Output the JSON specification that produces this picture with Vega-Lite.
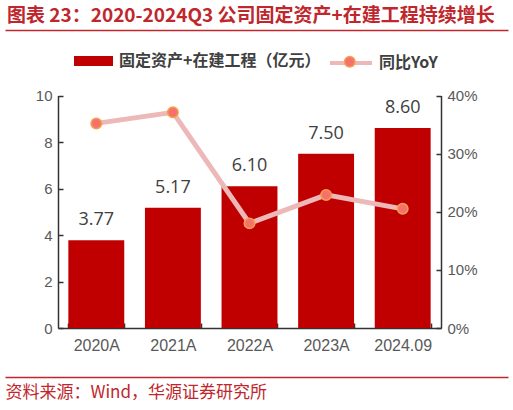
{
  "$schema": "https://vega.github.io/schema/vega-lite/v6.json",
  "width": 503,
  "height": 347,
  "autosize": {"type": "none"},
  "padding": {"left": 5, "top": 30, "right": 5, "bottom": 33},
  "background": "white",
  "config": {"view": {"stroke": null}, "font": "Liberation Sans"},
  "title": {
    "text": "图表 23：2020-2024Q3 公司固定资产+在建工程持续增长",
    "anchor": "start",
    "frame": "group",
    "font": "Noto Sans CJK SC",
    "fontSize": 19,
    "fontWeight": "bold",
    "color": "#C0272D",
    "offset": -11,
    "baseline": "alphabetic",
    "dx": 2
  },
  "datasets": {
    "main": [
      {"year": "2020A", "value": 3.77, "yoy": 0.352},
      {"year": "2021A", "value": 5.17, "yoy": 0.371},
      {"year": "2022A", "value": 6.10, "yoy": 0.180},
      {"year": "2023A", "value": 7.50, "yoy": 0.229},
      {"year": "2024.09", "value": 8.60, "yoy": 0.205}
    ],
    "frame": [{"d": 0}, {"d": 1}]
  },
  "resolve": {"scale": {"x": "independent", "y": "independent"}},
  "layer": [
    {
      "data": {"name": "main"},
      "encoding": {
        "x": {
          "field": "year", "type": "nominal", "sort": null,
          "scale": {"range": [53, 436], "paddingInner": 0.27, "paddingOuter": 0.135},
          "axis": {
            "orient": "bottom", "offset": -49, "title": null,
            "domainColor": "#333333", "domainWidth": 1.5,
            "tickColor": "#333333", "tickWidth": 1.5, "tickSize": -5, "tickBand": "extent",
            "labelFontSize": 16, "labelColor": "#595959", "labelFont": "Liberation Sans",
            "labelPadding": 14, "labelAngle": 0, "grid": false
          }
        },
        "y": {
          "field": "value", "type": "quantitative",
          "scale": {"domain": [0, 10], "range": [298, 65.5], "nice": false, "zero": true},
          "axis": {
            "orient": "left", "offset": -53, "title": null, "values": [0, 2, 4, 6, 8, 10],
            "domainColor": "#333333", "domainWidth": 1.5,
            "tickColor": "#333333", "tickWidth": 1.5, "tickSize": -5,
            "labelFontSize": 15, "labelColor": "#595959", "labelFont": "Liberation Sans",
            "labelPadding": 11, "grid": false
          }
        }
      },
      "layer": [
        {
          "mark": {"type": "bar"},
          "encoding": {
            "color": {
              "datum": "固定资产+在建工程（亿元）",
              "scale": {"range": ["#C00000"]},
              "legend": {
                "orient": "none", "legendX": 69, "legendY": 11.5, "title": null, "padding": 0,
                "symbolType": "M-1,-0.256H1V0.256H-1Z", "symbolSize": 1521, "symbolStrokeWidth": 0,
                "labelFontSize": 16, "labelFontWeight": "bold", "labelColor": "#404040",
                "labelFont": "Noto Sans CJK SC", "labelOffset": 6, "labelLimit": 400
              }
            }
          }
        },
        {
          "mark": {"type": "text", "dy": -15, "baseline": "alphabetic", "fontSize": 18, "font": "Open Sans", "color": "#404040"},
          "encoding": {"text": {"field": "value", "type": "quantitative", "format": ".2f"}}
        }
      ]
    },
    {
      "data": {"name": "main"},
      "encoding": {
        "x": {
          "field": "year", "type": "nominal", "sort": null,
          "scale": {"range": [53, 436], "paddingInner": 0.27, "paddingOuter": 0.135},
          "axis": null
        },
        "y": {
          "field": "yoy", "type": "quantitative",
          "scale": {"domain": [0, 0.4], "range": [298, 65.5], "nice": false, "zero": true},
          "axis": {
            "orient": "right", "offset": -67, "title": null, "values": [0, 0.1, 0.2, 0.3, 0.4], "format": ".0%",
            "domainColor": "#333333", "domainWidth": 1.5,
            "tickColor": "#333333", "tickWidth": 1.5, "tickSize": -5,
            "labelFontSize": 15, "labelColor": "#595959", "labelFont": "Liberation Sans",
            "labelPadding": 11, "grid": false
          }
        }
      },
      "layer": [
        {
          "mark": {"type": "line", "strokeWidth": 5},
          "encoding": {
            "stroke": {
              "datum": "同比YoY",
              "scale": {"range": ["#EDB8B8"]},
              "legend": {
                "orient": "none", "legendX": 323, "legendY": 10, "title": null, "padding": 0,
                "symbolType": "stroke", "symbolSize": 1764, "symbolStrokeWidth": 4,
                "labelFontSize": 16, "labelFontWeight": "bold", "labelColor": "#404040",
                "labelFont": "Noto Sans CJK SC", "labelOffset": 5
              }
            }
          }
        },
        {
          "mark": {"type": "point", "filled": true, "size": 110, "opacity": 1, "stroke": "#F4A04E", "strokeWidth": 1.5},
          "encoding": {
            "fill": {
              "datum": "YoY点",
              "scale": {"range": ["#F6716C"]},
              "legend": {
                "orient": "none", "legendX": 338.75, "legendY": 25.75, "title": null, "padding": 0,
                "symbolType": "circle", "symbolSize": 110, "symbolStrokeColor": "#F4A04E", "symbolStrokeWidth": 1.5,
                "labelExpr": "''"
              }
            }
          }
        }
      ]
    },
    {
      "data": {"name": "frame"},
      "mark": {"type": "point", "opacity": 0},
      "encoding": {
        "x": {
          "field": "d", "type": "quantitative",
          "scale": {"domain": [0, 1], "nice": false, "zero": false},
          "axis": {"orient": "top", "domainColor": "#C0272D", "domainWidth": 1.5, "ticks": false, "labels": false, "grid": false, "title": null}
        }
      }
    },
    {
      "data": {"name": "frame"},
      "mark": {"type": "point", "opacity": 0},
      "encoding": {
        "x": {
          "field": "d", "type": "quantitative",
          "scale": {"domain": [0, 1], "nice": false, "zero": false},
          "axis": {
            "orient": "bottom", "domainColor": "#C0272D", "domainWidth": 1.5, "ticks": false, "labels": false, "grid": false,
            "title": "资料来源：Wind，华源证券研究所", "titleAnchor": "start", "titleFont": "Noto Sans CJK SC",
            "titleFontSize": 17, "titleFontWeight": "normal", "titleColor": "#C0272D", "titlePadding": 7
          }
        }
      }
    }
  ]
}
